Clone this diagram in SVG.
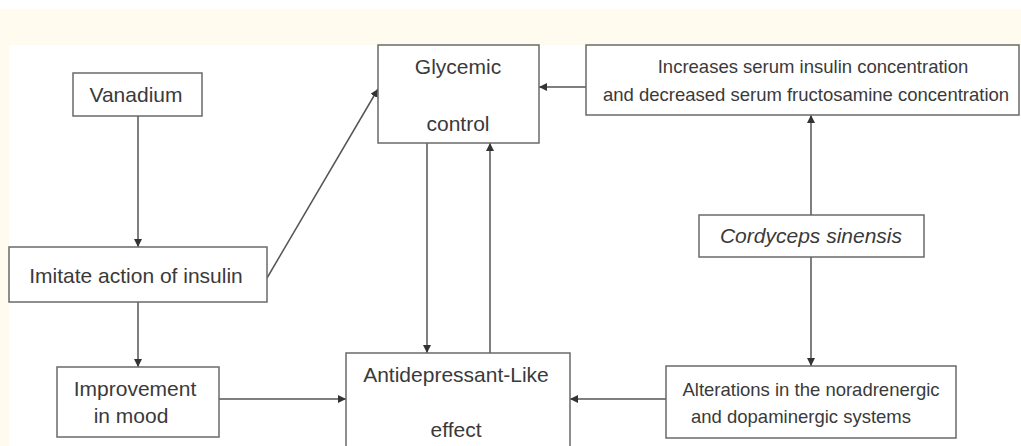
<svg xmlns="http://www.w3.org/2000/svg" width="1021" height="446" viewBox="0 0 1021 446">
  <defs>
    <style>
      .box { fill: #ffffff; stroke: #6a6a6a; stroke-width: 1.5; }
      .t { font-family: "Liberation Sans", Arial, sans-serif; font-size: 21px; fill: #3a3a3a; text-anchor: middle; }
      .s { font-size: 18.5px; }
      .edge { stroke: #555555; stroke-width: 1.5; fill: none; marker-end: url(#arr); }
    </style>
    <marker id="arr" viewBox="0 0 10 10" refX="10" refY="5" markerWidth="8" markerHeight="8" markerUnits="userSpaceOnUse" orient="auto">
      <path d="M0,0 L10,5 L0,10 z" fill="#333333"/>
    </marker>
  </defs>

  <rect x="0" y="0" width="1021" height="446" fill="#ffffff"/>
  <rect x="0" y="9" width="1021" height="437" fill="#fffbef"/>
  <rect x="9" y="45" width="1012" height="401" fill="#ffffff"/>

  <g id="connectors">
    <line class="edge" x1="138" y1="116" x2="138" y2="247"/>
    <line class="edge" x1="138" y1="302" x2="138" y2="367"/>
    <line class="edge" x1="267" y1="278" x2="378" y2="89"/>
    <line class="edge" x1="586" y1="87" x2="539" y2="87"/>
    <line class="edge" x1="427" y1="143" x2="427" y2="353"/>
    <line class="edge" x1="490" y1="353" x2="490" y2="143"/>
    <line class="edge" x1="811" y1="215" x2="811" y2="115"/>
    <line class="edge" x1="811" y1="257" x2="811" y2="366"/>
    <line class="edge" x1="219" y1="399" x2="346" y2="399"/>
    <line class="edge" x1="666" y1="399" x2="570" y2="399"/>
  </g>

  <g id="vanadium">
    <rect class="box" x="73" y="73" width="129" height="43"/>
    <text class="t" x="136" y="102">Vanadium</text>
  </g>

  <g id="glycemic">
    <rect class="box" x="378" y="45" width="161" height="98"/>
    <text class="t" x="458" y="74">Glycemic</text>
    <text class="t" x="458" y="131">control</text>
  </g>

  <g id="increases">
    <rect class="box" x="586" y="45" width="433" height="70"/>
    <text class="t s" x="813" y="73">Increases serum insulin concentration</text>
    <text class="t s" x="806" y="101">and decreased serum fructosamine concentration</text>
  </g>

  <g id="imitate">
    <rect class="box" x="9" y="247" width="258" height="55"/>
    <text class="t" x="136" y="283">Imitate action of insulin</text>
  </g>

  <g id="cordyceps">
    <rect class="box" x="699" y="215" width="225" height="42"/>
    <text class="t" x="811" y="243" font-style="italic">Cordyceps sinensis</text>
  </g>

  <g id="improvement">
    <rect class="box" x="57" y="367" width="162" height="70"/>
    <text class="t" x="135" y="396">Improvement</text>
    <text class="t" x="131" y="423">in mood</text>
  </g>

  <g id="antidepressant">
    <rect class="box" x="346" y="353" width="224" height="110"/>
    <text class="t" x="456" y="382">Antidepressant-Like</text>
    <text class="t" x="456" y="437">effect</text>
  </g>

  <g id="alterations">
    <rect class="box" x="666" y="366" width="290" height="72"/>
    <text class="t s" x="811" y="396">Alterations in the noradrenergic</text>
    <text class="t s" x="801" y="423">and dopaminergic systems</text>
  </g>
</svg>
